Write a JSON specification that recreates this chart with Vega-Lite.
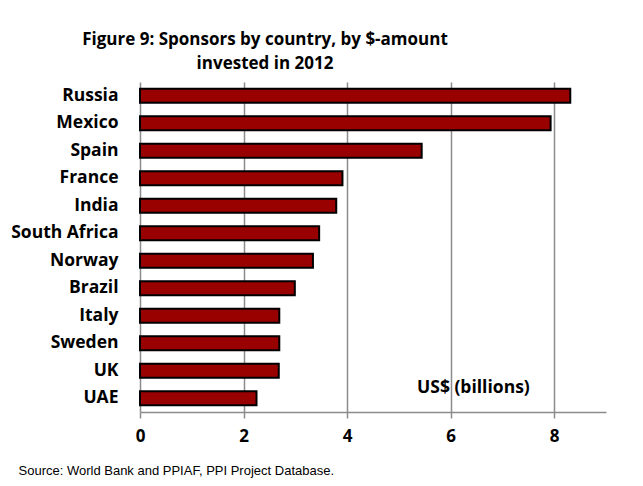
{
  "$schema": "https://vega.github.io/schema/vega-lite/v6.json",
  "width": 466,
  "height": 330,
  "autosize": {"type": "none"},
  "padding": {"left": 140, "top": 82, "right": 37, "bottom": 74},
  "background": "white",
  "title": {
    "text": ["Figure 9: Sponsors by country, by $-amount", "invested in 2012"],
    "font": "Open Sans",
    "fontSize": 17,
    "fontWeight": "bold",
    "color": "black",
    "lineHeight": 24,
    "anchor": "middle",
    "dx": -108,
    "offset": 9
  },
  "layer": [
    {
      "data": {
        "values": [
          {"country": "Russia", "amount": 8.31},
          {"country": "Mexico", "amount": 7.93},
          {"country": "Spain", "amount": 5.44},
          {"country": "France", "amount": 3.91},
          {"country": "India", "amount": 3.79},
          {"country": "South Africa", "amount": 3.46},
          {"country": "Norway", "amount": 3.34},
          {"country": "Brazil", "amount": 2.99},
          {"country": "Italy", "amount": 2.69},
          {"country": "Sweden", "amount": 2.69},
          {"country": "UK", "amount": 2.68},
          {"country": "UAE", "amount": 2.25}
        ]
      },
      "mark": {"type": "bar", "fill": "#990000", "stroke": "black", "strokeWidth": 2},
      "encoding": {
        "y": {
          "field": "country",
          "type": "nominal",
          "sort": null,
          "scale": {"paddingInner": 0.49, "paddingOuter": 0.245},
          "axis": {
            "title": null,
            "labelFont": "Open Sans",
            "labelFontSize": 17.5,
            "labelFontWeight": "bold",
            "labelColor": "black",
            "labelPadding": 22,
            "ticks": false,
            "domain": false,
            "grid": false
          }
        },
        "x": {
          "field": "amount",
          "type": "quantitative",
          "scale": {"domain": [0, 9], "nice": false},
          "axis": {
            "values": [0, 2, 4, 6, 8],
            "title": "Source:  World Bank and PPIAF, PPI Project Database.",
            "titleFont": "Liberation Sans",
            "titleFontSize": 13,
            "titleFontWeight": "normal",
            "titleColor": "black",
            "titleAnchor": "start",
            "titleAlign": "left",
            "titleX": -122,
            "titleY": 52,
            "labelFont": "Open Sans",
            "labelFontSize": 17,
            "labelFontWeight": "bold",
            "labelColor": "black",
            "labelPadding": 10,
            "labelFlush": false,
            "domainColor": "#8c8c8c",
            "domainWidth": 1.5,
            "tickColor": "#8c8c8c",
            "tickWidth": 1.5,
            "tickSize": 6,
            "grid": true,
            "gridColor": "#8c8c8c",
            "gridWidth": 1.5
          }
        }
      }
    },
    {
      "data": {"values": [{"label": "US$ (billions)"}]},
      "mark": {"type": "text", "font": "Open Sans", "fontSize": 17.5, "fontWeight": "bold", "align": "left", "baseline": "middle", "fill": "black", "dy": -10},
      "encoding": {
        "text": {"field": "label"},
        "x": {"datum": 5.35},
        "y": {"datum": "UAE"}
      }
    }
  ],
  "config": {"view": {"stroke": null}}
}
